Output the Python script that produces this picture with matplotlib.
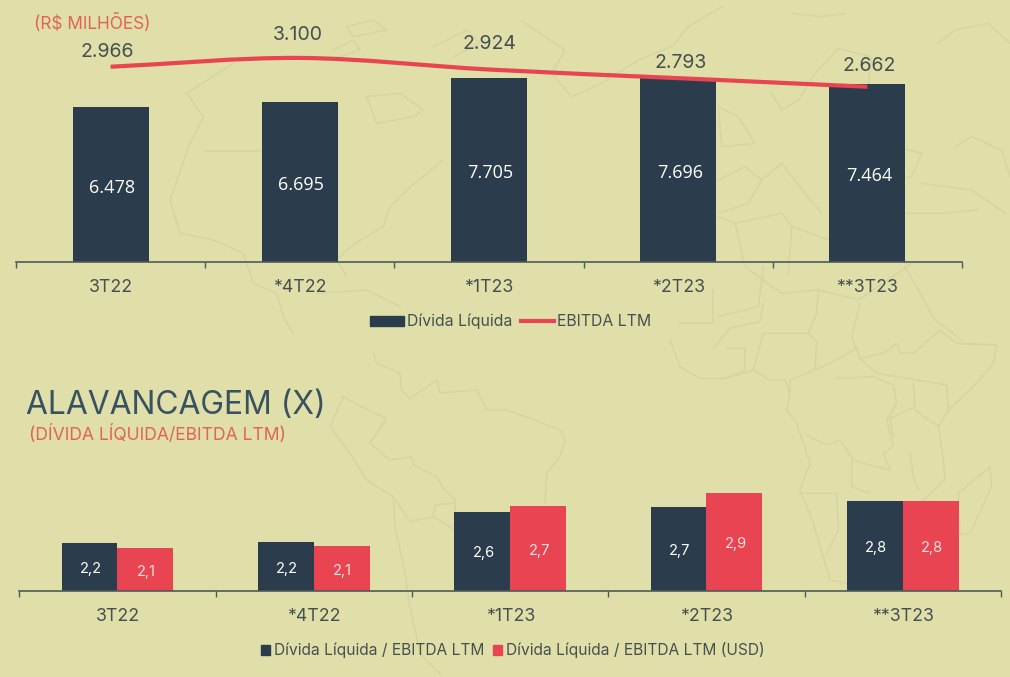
import matplotlib
matplotlib.use("Agg")
import matplotlib.pyplot as plt
from matplotlib.lines import Line2D
from matplotlib.patches import Patch, PathPatch
from matplotlib.path import Path
import numpy as np

# ---- data ----
top_categories = ["3T22", "*4T22", "*1T23", "*2T23", "**3T23"]
divida_liquida = [6478, 6695, 7705, 7696, 7464]
divida_labels = ["6.478", "6.695", "7.705", "7.696", "7.464"]
ebitda_ltm = [2966, 3100, 2924, 2793, 2662]
ebitda_labels = ["2.966", "3.100", "2.924", "2.793", "2.662"]

bottom_categories = ["3T22", "*4T22", "*1T23", "*2T23", "**3T23"]
alav_brl = [2.18, 2.20, 2.63, 2.70, 2.79]
alav_usd = [2.11, 2.14, 2.71, 2.90, 2.79]
alav_brl_labels = ["2,2", "2,2", "2,6", "2,7", "2,8"]
alav_usd_labels = ["2,1", "2,1", "2,7", "2,9", "2,8"]

# ---- style ----
W, H = 1010, 677
BG = "#E0DFAA"
NAVY = "#2B3C4C"
RED = "#E84451"
ORANGE = "#E0654F"
TXT = "#45504F"
AXC = "#4D5C58"
MAPC = "#D6D5A3"
FONT = ["Inter", "DejaVu Sans"]
plt.rcParams["font.family"] = FONT

# decorative world-map outlines behind the charts: (origin x, origin y, traced 3x crop outlines)
map_na = [
    [(700,190),(560,280),(610,350),(570,430),(510,600),(540,700),(640,720),(730,760),(760,850),(830,880),(850,950),(880,1000)],
    [(615,453),(790,453)],
    [(1330,480),(1220,570),(1170,620),(1150,680),(1050,740),(1010,780),(1040,830)],
    [(1100,290),(1130,370),(1240,350),(1270,330),(1200,280),(1100,290)],
    [(1040,80),(1120,60),(1160,90),(1060,110),(1040,80)],
    [(1000,150),(1060,120),(1080,150),(1020,170)],
    [(1300,140),(1400,90),(1440,130),(1360,170)],
    [(950,880),(1100,870),(1200,920)],
]
map_eu = [
    [(60,70),(180,150),(140,220),(200,290),(290,250),(400,180),(500,140),(550,80),(650,20)],
    [(640,320),(700,350),(750,430),(650,440),(640,320)],
    [(640,540),(720,500),(770,540),(730,610),(640,640)],
    [(770,540),(830,490),(900,580),(950,640)],
    [(800,280),(830,330),(880,300),(930,220),(1000,145),(1100,170),(1090,255)],
    [(640,650),(690,670),(830,640),(860,680),(1000,730),(1130,700),(1200,790)],
    [(690,670),(720,800),(830,880),(940,870),(1060,900),(1220,790)],
    [(860,680),(850,820)],
    [(775,800),(760,920),(640,950)],
    [(1200,800),(1290,960),(1370,1020)],
    [(1300,130),(1350,90),(1450,70),(1515,130)],
    [(860,40),(950,50),(1020,40)],
    [(1000,400),(1250,460),(1220,530),(1000,560)],
    [(1350,440),(1400,410),(1490,450),(1515,530)],
    [(1250,550),(1400,570),(1500,640)],
    [(1200,640),(1310,640),(1420,630)],
]
map_sa = [
    [(130,40),(140,70),(210,100),(215,150),(240,175),(320,120),(330,160),(370,155),(440,150),(470,210),(530,210),(600,235),(690,270),(705,300),(690,350),(650,400),(645,490)],
    [(40,170),(0,260),(60,340),(110,420),(190,470),(195,560),(225,700),(240,800),(270,940),(330,1000)],
    [(40,170),(95,200),(170,235),(120,310),(180,360),(245,350),(250,375),(320,410),(340,445),(375,480),(375,520)],
    [(190,470),(240,545),(310,530),(375,570)],
    [(310,530),(315,495),(370,490)],
]
map_af = [
    [(0,150),(30,230),(90,265),(170,265),(250,240),(300,270),(345,270),(360,310),(350,360),(380,400),(410,490),(420,520),(390,600),(430,700),(480,870),(530,880)],
    [(980,165),(970,220),(920,280),(835,360),(805,410),(820,510),(825,570),(760,630)],
    [(130,0),(130,100),(30,100)],
    [(280,40),(270,95),(180,115),(130,175)],
    [(445,0),(440,70),(415,130),(280,130),(250,240)],
    [(415,130),(440,155),(435,240),(360,270),(360,310)],
    [(570,40),(545,140),(570,205),(640,190),(680,160),(690,190),(730,190),(810,120),(860,160),(980,165)],
    [(570,205),(620,250),(740,270),(830,285),(835,360)],
    [(435,240),(500,210),(560,175)],
    [(500,265),(610,260),(670,285),(680,340),(650,390),(670,470),(640,490),(660,540),(580,520),(550,510),(510,450),(470,465),(410,435)],
    [(730,280),(735,350),(660,385),(670,440)],
    [(735,360),(805,410)],
    [(545,515),(545,590),(600,610)],
    [(390,610),(500,610),(505,720),(470,790)],
    [(960,530),(965,590),(900,730),(870,735),(865,610),(960,530)],
    [(170,175),(225,175),(225,240),(165,265)],
    [(720,490),(730,560),(745,600)],
]
map_groups = [(0, 0, map_na), (505, 0, map_eu), (330, 340, map_sa), (670, 290, map_af)]

fig = plt.figure(figsize=(W / 100, H / 100), dpi=100, facecolor=BG)

bg = fig.add_axes([0, 0, 1, 1])
bg.set_xlim(0, W)
bg.set_ylim(H, 0)
bg.axis("off")
for ox, oy, group in map_groups:
    for outline in group:
        pts = np.array(outline, float) / 3 + (ox, oy)
        bg.plot(pts[:, 0], pts[:, 1], color=MAPC, lw=1.1, solid_joinstyle="round")

def axes_px(x0, x1, ytop, ybot):
    return fig.add_axes([x0 / W, 1 - ybot / H, (x1 - x0) / W, (ybot - ytop) / H])

def style(ax, cats):
    ax.patch.set_alpha(0)
    for s in ("top", "left", "right"):
        ax.spines[s].set_visible(False)
    ax.spines["bottom"].set_color(AXC)
    ax.spines["bottom"].set_linewidth(1.2)
    ax.set_xlim(-0.5, len(cats) - 0.5)
    ax.set_yticks([])
    ax.set_xticks(np.arange(len(cats) + 1) - 0.5)
    ax.set_xticklabels([])
    ax.tick_params(axis="x", which="major", length=4.5, width=1, color=AXC)
    ax.set_xticks(np.arange(len(cats)), minor=True)
    ax.set_xticklabels(cats, minor=True, fontsize=12.8, color=TXT)
    ax.tick_params(axis="x", which="minor", length=0, pad=12.2)

# ---- top chart ----
ax = axes_px(16, 962, 0, 262)
style(ax, top_categories)
x = np.arange(len(top_categories))
ax.bar(x, divida_liquida, width=0.402, color=NAVY, zorder=2)
ax.set_ylim(0, 10985)
for xi, v, lab in zip(x, divida_liquida, divida_labels):
    ax.annotate(lab, (xi, v / 2), xytext=(1.5, -3), textcoords="offset pixels",
                ha="center", va="center", color="white", fontsize=13,
                family=["Open Sans", "DejaVu Sans"], zorder=3)

ax2 = ax.twinx()
ax2.patch.set_alpha(0)
for s in ax2.spines.values():
    s.set_visible(False)
ax2.set_yticks([])
ax2.set_ylim(0, 3980)
y = np.array(ebitda_ltm, float)
tang = np.gradient(y, x)
verts = [(x[0], y[0])]
codes = [Path.MOVETO]
for i in range(len(x) - 1):
    verts += [(x[i] + 1 / 3, y[i] + tang[i] / 3),
              (x[i + 1] - 1 / 3, y[i + 1] - tang[i + 1] / 3),
              (x[i + 1], y[i + 1])]
    codes += [Path.CURVE4] * 3
ax2.add_patch(PathPatch(Path(verts, codes), fill=False, ec=RED, lw=3, capstyle="butt", zorder=4))
line_offsets = [(-3, 15), (-2, 23), (0, 26), (2, 15), (2, 21)]
for xi, v, lab, off in zip(x, ebitda_ltm, ebitda_labels, line_offsets):
    ax2.annotate(lab, (xi, v), xytext=off, textcoords="offset pixels",
                 ha="center", va="center", color=TXT, fontsize=14)

fig.text(34 / W, 1 - 23 / H, "(R$ MILHÕES)", color=ORANGE, fontsize=12.4, va="center", ha="left")

leg1 = fig.legend(handles=[Patch(color=NAVY, label="Dívida Líquida"),
                           Line2D([], [], color=RED, lw=3, label="EBITDA LTM")],
                  loc="center", bbox_to_anchor=(511 / W, 1 - 321.5 / H), ncol=2, frameon=False,
                  fontsize=11.4, labelcolor=TXT, handlelength=2.1, handleheight=0.58,
                  handletextpad=0.2, columnspacing=0.55, borderpad=0, borderaxespad=0)

# ---- bottom chart ----
fig.text(26 / W, 1 - 405 / H, "ALAVANCAGEM (X)", color="#385260", fontsize=22.9, va="center", ha="left")
fig.text(29 / W, 1 - 434 / H, "(DÍVIDA LÍQUIDA/EBITDA LTM)", color=ORANGE, fontsize=12.6, va="center", ha="left")

bx = axes_px(19.3, 1001, 470, 591)
style(bx, bottom_categories)
x = np.arange(len(bottom_categories))
bw = 0.285
bx.bar(x - bw / 2, alav_brl, width=bw, color=NAVY, zorder=2)
bx.bar(x + bw / 2, alav_usd, width=bw, color=RED, zorder=2)
bx.set_ylim(1.5, 1.5 + 121 / 70)
for xi, v, lab in zip(x - bw / 2, alav_brl, alav_brl_labels):
    bx.annotate(lab, (xi, (v + 1.5) / 2), xytext=(1.5, -2), textcoords="offset pixels",
                ha="center", va="center", color="white", fontsize=10.5, zorder=3)
for xi, v, lab in zip(x + bw / 2, alav_usd, alav_usd_labels):
    bx.annotate(lab, (xi, (v + 1.5) / 2), xytext=(1, -2), textcoords="offset pixels",
                ha="center", va="center", color="#F7E3DC", fontsize=10.5, zorder=3)

leg2 = fig.legend(handles=[Patch(color=NAVY, label="Dívida Líquida / EBITDA LTM"),
                           Patch(color=RED, label="Dívida Líquida / EBITDA LTM (USD)")],
                  loc="center", bbox_to_anchor=(513 / W, 1 - 650.5 / H), ncol=2, frameon=False,
                  fontsize=11.2, labelcolor=TXT, handlelength=0.58, handleheight=0.58,
                  handletextpad=0.25, columnspacing=0.55, borderpad=0, borderaxespad=0)

fig.savefig("out.png", dpi=100, facecolor=BG)
